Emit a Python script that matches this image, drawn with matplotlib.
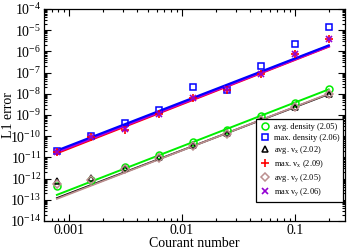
import matplotlib
matplotlib.use("Agg")
import matplotlib.pyplot as plt
from matplotlib.ticker import LogLocator, LogFormatterMathtext, NullFormatter

plt.rcParams['font.family'] = ['Liberation Serif', 'DejaVu Serif']
plt.rcParams['mathtext.fontset'] = 'custom'
plt.rcParams['mathtext.rm'] = 'Liberation Serif'
plt.rcParams['mathtext.it'] = 'Liberation Serif:italic'

# Courant numbers
courant = [0.00078125, 0.0015625, 0.003125, 0.00625, 0.0125, 0.025, 0.05, 0.1, 0.2]

# L1 errors
avg_density = [4.5e-13, 8.7e-13, 3.5e-12, 1.35e-11, 5.4e-11, 2.0e-10, 8.5e-10, 3.6e-9, 1.6e-8]
max_density = [1.9e-11, 1.0e-10, 4.0e-10, 1.8e-9, 2.1e-8, 1.5e-8, 2.1e-7, 2.3e-6, 1.45e-5]
avg_vx = [7.4e-13, 1.05e-12, 3.1e-12, 1.0e-11, 3.8e-11, 1.4e-10, 5.9e-10, 2.4e-9, 1.0e-8]
max_vx = [1.7e-11, 9.0e-11, 2.0e-10, 1.05e-9, 6.3e-9, 1.5e-8, 8.9e-8, 7.4e-7, 3.9e-6]
avg_vy = [5.5e-13, 9.0e-13, 2.9e-12, 9.5e-12, 3.6e-11, 1.3e-10, 5.6e-10, 2.3e-9, 9.5e-9]
max_vy = [1.7e-11, 9.0e-11, 2.1e-10, 1.05e-9, 6.3e-9, 1.6e-8, 8.9e-8, 7.4e-7, 3.9e-6]

# fit lines (end points)
fit_x = [0.00078125, 0.2]
fit_avg_density = [1.7e-13, 1.6e-8]
fit_max_density = [2.1e-11, 1.9e-6]
fit_avg_vx = [1.2e-13, 9.5e-9]
fit_max_vx = [1.6e-11, 1.7e-6]
fit_avg_vy = [1.1e-13, 1.0e-8]
fit_max_vy = [1.8e-11, 1.75e-6]

fig = plt.figure(figsize=(3.49, 2.48), dpi=100)
ax = fig.add_axes([0.126, 0.109, 0.863, 0.855])

# fit lines
ax.plot(fit_x, fit_avg_vx, color='black', lw=1.3)
ax.plot(fit_x, fit_avg_vy, color='#bc8f8f', lw=1.3)
ax.plot(fit_x, fit_avg_density, color='#00ee00', lw=1.4)
ax.plot(fit_x, fit_max_vx, color='red', lw=1.8)
ax.plot(fit_x, fit_max_vy, color='#b000e0', lw=1.8)
ax.plot(fit_x, fit_max_density, color='blue', lw=1.6)

# data points
ms = 5
ax.plot(courant, avg_density, 'o', ms=ms, mfc='none', mec='#00ee00', mew=1.1,
        label='avg. density (2.05)')
ax.plot(courant, max_density, 's', ms=ms, mfc='none', mec='blue', mew=1.1,
        label='max. density (2.06)')
ax.plot(courant, avg_vx, '^', ms=ms, mfc='none', mec='black', mew=1.1,
        label='avg. v$_\\mathregular{x}$ (2.02)')
ax.plot(courant, max_vx, '+', ms=ms + 1, mec='red', mew=1.2,
        label='max. v$_\\mathregular{x}$ (2.09)')
ax.plot(courant, avg_vy, 'D', ms=ms - 1, mfc='none', mec='#bc8f8f', mew=1.1,
        label='avg. v$_\\mathregular{y}$ (2.05)')
ax.plot(courant, max_vy, 'x', ms=ms - 1, mec='#9400d3', mew=1.2,
        label='max v$_\\mathregular{y}$ (2.06)')

ax.set_xscale('log')
ax.set_yscale('log')
ax.set_xlim(0.0006, 0.28)
ax.set_ylim(1e-14, 1e-4)

ax.xaxis.set_major_locator(LogLocator(base=10, numticks=10))
ax.xaxis.set_minor_locator(LogLocator(base=10, subs=range(2, 10), numticks=20))
ax.xaxis.set_major_formatter(matplotlib.ticker.FuncFormatter(lambda v, p: f'{v:g}'))
ax.xaxis.set_minor_formatter(NullFormatter())
ax.yaxis.set_major_locator(LogLocator(base=10, numticks=20))
ax.yaxis.set_minor_locator(LogLocator(base=10, subs=range(2, 10), numticks=20))
ax.yaxis.set_major_formatter(LogFormatterMathtext())
ax.yaxis.set_minor_formatter(NullFormatter())

ax.tick_params(which='both', direction='in', top=True, right=True, labelsize=10, width=0.8)
ax.tick_params(which='major', length=5, pad=2)
ax.tick_params(which='minor', length=2.5)
for s in ax.spines.values():
    s.set_linewidth(0.9)

ax.set_xlabel('Courant number', fontsize=10)
ax.set_ylabel('L1 error', fontsize=10)
ax.xaxis.set_label_coords(0.5, -0.074)
ax.yaxis.set_label_coords(-0.095, 0.5)

leg = ax.legend(loc='lower right', fontsize=6, frameon=True, fancybox=False,
                edgecolor='black', framealpha=1, labelspacing=0.28,
                handletextpad=0.4, borderpad=0.5, handlelength=1.2,
                bbox_to_anchor=(1.008, 0.068))
leg.get_frame().set_linewidth(0.9)

fig.savefig('out.png', dpi=100)
